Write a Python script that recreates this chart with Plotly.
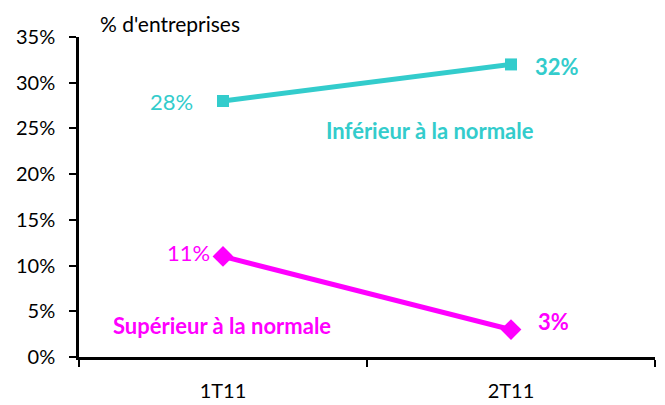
import plotly.graph_objects as go

categories = ["1T11", "2T11"]
inferieur = [28, 32]
superieur = [11, 3]
y_ticks = [0, 5, 10, 15, 20, 25, 30, 35]
y_tick_labels = [f"{v}%" for v in y_ticks]

CYAN = "#33CCCC"
MAGENTA = "#FF00FF"
FONT = "Lato"

fig = go.Figure()
fig.add_trace(go.Scatter(x=categories, y=inferieur, mode="lines+markers",
                         line=dict(color=CYAN, width=5),
                         marker=dict(symbol="square", size=12, color=CYAN),
                         showlegend=False, hoverinfo="skip"))
fig.add_trace(go.Scatter(x=categories, y=superieur, mode="lines+markers",
                         line=dict(color=MAGENTA, width=5),
                         marker=dict(symbol="diamond", size=16, color=MAGENTA),
                         showlegend=False, hoverinfo="skip"))

# data labels
fig.add_annotation(x=categories[0], y=inferieur[0], text=f"{inferieur[0]}%",
                   showarrow=False, xanchor="right", xshift=-28,
                   font=dict(color=CYAN, size=22, family=FONT))
fig.add_annotation(x=categories[1], y=inferieur[1], text=f"<b>{inferieur[1]}%</b>",
                   showarrow=False, xanchor="left", xshift=22, yshift=-2,
                   font=dict(color=CYAN, size=22, family=FONT))
fig.add_annotation(x=categories[0], y=superieur[0], text=f"{superieur[0]}%",
                   showarrow=False, xanchor="right", xshift=-11, yshift=4,
                   font=dict(color=MAGENTA, size=22, family=FONT))
fig.add_annotation(x=categories[1], y=superieur[1], text=f"<b>{superieur[1]}%</b>",
                   showarrow=False, xanchor="left", xshift=25, yshift=8,
                   font=dict(color=MAGENTA, size=22, family=FONT))

# series labels
fig.add_annotation(x=0.425, y=24.8, xref="paper", yref="y", text="<b>Inférieur à la normale</b>",
                   showarrow=False, xanchor="left",
                   font=dict(color=CYAN, size=22, family=FONT))
fig.add_annotation(x=0.055, y=3.5, xref="paper", yref="y", text="<b>Supérieur à la normale</b>",
                   showarrow=False, xanchor="left",
                   font=dict(color=MAGENTA, size=22, family=FONT))

# axis title
fig.add_annotation(x=0.033, y=1.0, xref="paper", yref="paper", yshift=14,
                   text="% d'entreprises", showarrow=False, xanchor="left", yanchor="middle",
                   font=dict(color="black", size=21, family=FONT))

fig.update_xaxes(type="category", range=[-0.5, 1.5], showline=True, linecolor="black",
                 linewidth=2.5, ticks="outside", tickson="boundaries", ticklen=7,
                 tickwidth=2, tickcolor="black", showgrid=False, zeroline=False,
                 tickfont=dict(size=20, family=FONT, color="black"), ticklabelstandoff=14)
fig.update_yaxes(range=[0, 35], tickvals=y_ticks, ticktext=y_tick_labels,
                 showline=True, linecolor="black", linewidth=2.5, ticks="outside",
                 ticklen=7, tickwidth=2, tickcolor="black", showgrid=False, zeroline=False,
                 tickfont=dict(size=20, family=FONT, color="black"), ticklabelstandoff=10)

fig.update_layout(width=665, height=405, margin=dict(l=79, r=10, t=37, b=48, autoexpand=False),
                  plot_bgcolor="white", paper_bgcolor="white",
                  font=dict(family=FONT))
fig.write_html("out.html", config={"displayModeBar": False},
               post_script="document.body.style.margin='0';")
